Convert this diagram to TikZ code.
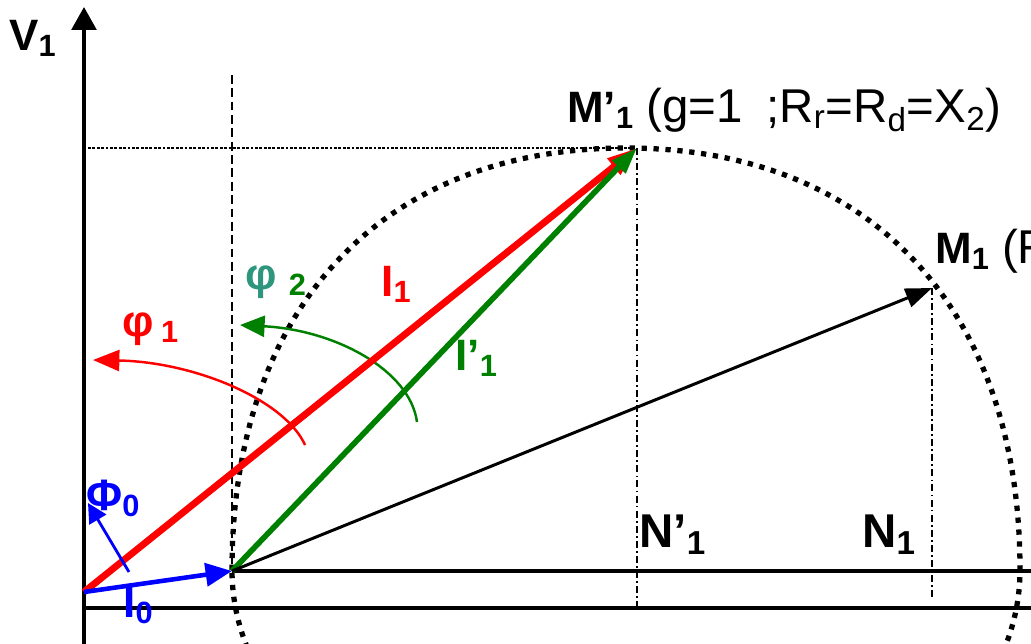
\documentclass[tikz,border=0pt]{standalone}
\usepackage{fontspec}
\setmainfont{Liberation Sans}
\usetikzlibrary{arrows.meta}
\definecolor{myred}{RGB}{255,0,0}
\definecolor{mygreen}{RGB}{0,128,0}
\definecolor{myblue}{RGB}{0,0,255}
\definecolor{myteal}{RGB}{45,150,125}
\begin{document}
\begin{tikzpicture}[x=0.02cm,y=-0.02cm,
  lbl/.style={inner sep=0pt, anchor=base west, font=\fontsize{25}{30}\selectfont\bfseries},
  biglbl/.style={inner sep=0pt, anchor=base west, font=\fontsize{27}{32}\selectfont\bfseries},
  axisline/.style={line width=2pt},
  dashv/.style={line width=1.7pt, dash pattern=on 5pt off 2.6pt},
  doth/.style={line width=1.1pt, dash pattern=on 1.6pt off 0.9pt},
  dashdot/.style={line width=1.3pt, dash pattern=on 4pt off 1.8pt on 1pt off 1.8pt},
  circdot/.style={line width=3pt, dash pattern=on 3pt off 3.8pt}
]
\clip (0,0) rectangle (1031,643);
% key points
\coordinate (O) at (84,592);
\coordinate (A) at (232,571);
\coordinate (Mp) at (637,148);
\coordinate (M) at (932,288);
\coordinate (Vb) at (84,660);
\coordinate (Vt) at (84,7);
\coordinate (Hl) at (84,608);
\coordinate (Hr) at (1045,608);
\coordinate (Ur) at (1045,571);
\coordinate (Dtop) at (232,75);
\coordinate (Hd) at (88,148);
\coordinate (Np) at (637,608);
\coordinate (N) at (932,600);
\coordinate (Ftail) at (129,572);
\coordinate (Fhead) at (88,503);
% circle (dotted)
\draw[circdot] (232,570) .. controls (232,308.4) and (381.7,148) .. (626,148)
  .. controls (870.3,148) and (1020,308.4) .. (1020,570)
  .. controls (1020,725) and (844,850) .. (626,850)
  .. controls (408,850) and (232,725) .. (232,570);
% axes and guide lines
\draw[axisline] (Hl) -- (Hr);
\draw[line width=1.8pt] (A) -- (Ur);
\draw[axisline, -{Triangle[length=13pt,width=14pt]}] (Vb) -- (Vt);
\draw[dashv] (Dtop) -- (A);
\draw[doth] (Hd) -- (Mp);
\draw[dashdot] (Mp) -- (Np);
\draw[dashdot] (M) -- (N);
% phase arcs
\draw[myred, line width=1.4pt, -{Triangle[length=15pt,width=12pt]}]
  (305,445) .. controls (285,400) and (195,362) .. (93,360);
\draw[mygreen, line width=1.4pt, -{Triangle[length=14pt,width=12pt]}]
  (417,422) .. controls (410,370) and (335,330) .. (240,325);
% vectors
\draw[myred, line width=3.9pt, -{Triangle[length=17pt,width=11pt]}] (O) -- (Mp);
\draw[mygreen, line width=3.2pt, -{Triangle[length=15pt,width=10pt]}] (A) -- (Mp);
\draw[line width=1.7pt, -{Triangle[length=15pt,width=11pt]}] (A) -- (M);
\draw[myblue, line width=2.6pt, -{Triangle[length=15pt,width=13pt]}] (O) -- (A);
\draw[myblue, line width=1.6pt, -{Triangle[length=11pt,width=11pt]}] (Ftail) -- (Fhead);
% labels
\node[lbl] (V1) at (9,50) {V\textsubscript{1}};
\node[lbl] (Mpl) at (567,122) {M’\textsubscript{1} \mdseries\fontsize{27}{32}\selectfont(g=1\hspace{0.5em};R\textsubscript{r}=R\textsubscript{d}=X\textsubscript{2})};
\node[lbl] (Ml) at (935,263) {M\textsubscript{1} \mdseries\fontsize{27}{32}\selectfont(R};
\node[lbl, text=myred] (phi1) at (122,336) {φ\,\textsubscript{1}};
\node[lbl, text=myteal] (phi2) at (245,289) {φ\ \textcolor{mygreen}{\textsubscript{2}}};
\node[lbl, text=myred] (I1) at (381,296) {I\textsubscript{1}};
\node[lbl, text=mygreen] (Ip1) at (455,370) {I’\textsubscript{1}};
\node[lbl, text=myblue] (Phi0) at (86,510) {Φ\textsubscript{0}};
\node[lbl, text=myblue] (I0) at (123,617) {I\textsubscript{0}};
\node[biglbl] (Np1) at (639,547) {N’\textsubscript{1}};
\node[biglbl] (N1) at (862,547) {N\textsubscript{1}};
\end{tikzpicture}
\end{document}
